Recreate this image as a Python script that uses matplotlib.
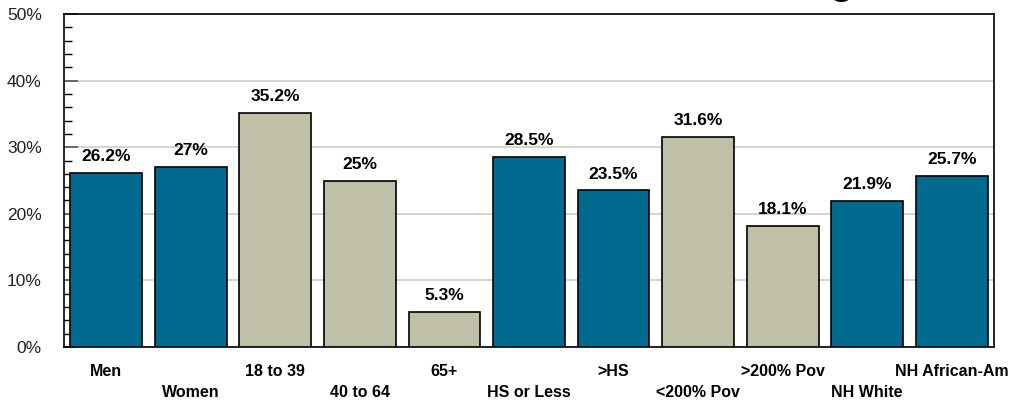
import matplotlib.pyplot as plt
import numpy as np

# -- data --
categories = ["Men", "Women", "18 to 39", "40 to 64", "65+", "HS or Less", ">HS",
              "<200% Pov", ">200% Pov", "NH White", "NH African-Am"]
values = [26.2, 27, 35.2, 25, 5.3, 28.5, 23.5, 31.6, 18.1, 21.9, 25.7]
value_labels = ["26.2%", "27%", "35.2%", "25%", "5.3%", "28.5%", "23.5%",
                "31.6%", "18.1%", "21.9%", "25.7%"]
group = ["teal", "teal", "gray", "gray", "gray", "teal", "teal", "gray", "gray", "teal", "teal"]

colors = {"teal": "#006B8E", "gray": "#C0BFA8"}
plt.rcParams['font.family'] = ['Liberation Sans', 'DejaVu Sans']

fig = plt.figure(figsize=(10.1, 4.03), dpi=100)
ax = fig.add_axes([64/1010, 1 - 347/403, 930/1010, 333/403])

x = np.arange(len(categories))
ax.bar(x, values, width=0.85, color=[colors[g] for g in group],
       edgecolor="black", linewidth=1.2, zorder=3)

for xi, v, lab in zip(x, values, value_labels):
    ax.text(xi, v + 1.8, lab, ha="center", va="baseline", fontsize=12.5,
            fontweight="bold", zorder=4)

ax.set_xlim(-0.5, len(categories) - 0.5)
ax.set_ylim(0, 50)
ax.set_yticks(np.arange(0, 51, 10))
ax.set_yticklabels([f"{t}%" for t in range(0, 51, 10)])
ax.set_yticks(np.arange(0, 51, 2), minor=True)
ax.tick_params(axis="y", which="major", direction="in", length=10, width=1.2,
               color="#555555", pad=16, labelsize=12.5, labelcolor="#222222")
ax.tick_params(axis="y", which="minor", direction="in", length=5.5, width=1)
ax.grid(axis="y", color="#cccccc", linewidth=1.2, zorder=0)

ax.set_xticks(x)
ax.set_xticklabels([])
ax.tick_params(axis="x", length=0)
for xi, lab in zip(x, categories):
    dy = 0.075 if xi % 2 == 0 else 0.138
    ax.text(xi, -dy, lab, transform=ax.get_xaxis_transform(), ha="center",
            va="center", fontsize=11.5, fontweight="bold")

for s in ax.spines.values():
    s.set_color("black")
    s.set_linewidth(1.2)

# cut-off title above the figure
fig.text(841/1010, 1 + 6/403, "g", ha="center", va="baseline", fontsize=28,
         fontweight="bold")

fig.savefig("out.png", dpi=100)
